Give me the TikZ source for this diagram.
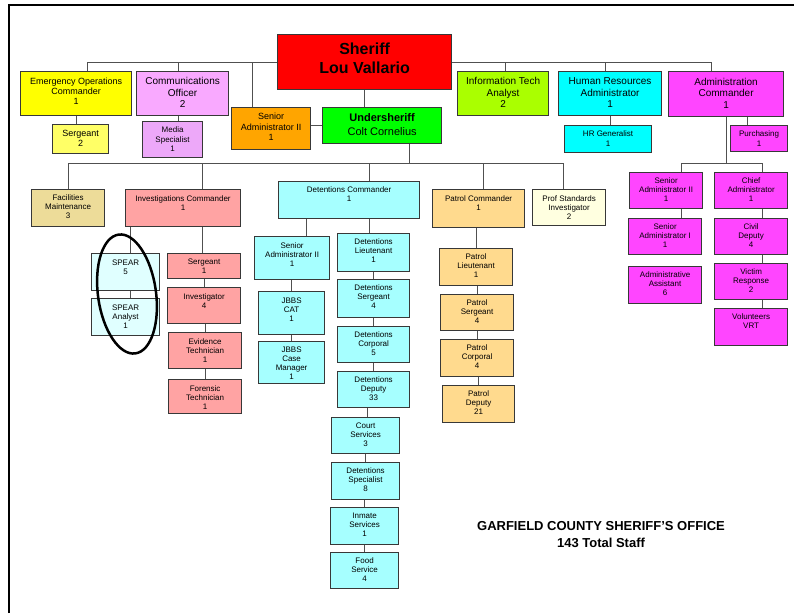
\documentclass[tikz,border=0pt]{standalone}
\usepackage{fontspec}
\setmainfont{Liberation Sans}
\usepackage{tikz}

\definecolor{boxline}{HTML}{383838}
\definecolor{wirecol}{HTML}{505050}
\definecolor{sheriffred}{HTML}{FF0000}
\definecolor{emgyellow}{HTML}{FFFF00}
\definecolor{sgtyellow}{HTML}{FFFF66}
\definecolor{commpink}{HTML}{F9A9FF}
\definecolor{mediapink}{HTML}{EDA8F9}
\definecolor{admorange}{HTML}{FFA500}
\definecolor{undergreen}{HTML}{00FF00}
\definecolor{itgreen}{HTML}{AAFF00}
\definecolor{hrcyan}{HTML}{00FFFF}
\definecolor{admmagenta}{HTML}{FF45FF}
\definecolor{facbeige}{HTML}{EDDC99}
\definecolor{invred}{HTML}{FFA3A3}
\definecolor{detcyan}{HTML}{A6FFFF}
\definecolor{spearcyan}{HTML}{E0FFFF}
\definecolor{patrolorange}{HTML}{FFDA8E}
\definecolor{profivory}{HTML}{FFFFE0}

\tikzset{
  box/.style={draw=boxline, line width=1.2pt, anchor=north west, inner sep=0pt},
  lbl/.style={anchor=north, align=center, inner sep=5.5pt, font=\fontsize{8}{9.2}\selectfont},
  lblm/.style={lbl, inner sep=6.5pt, font=\fontsize{9}{10.3}\selectfont},
  lbll/.style={lbl, inner sep=6.5pt, font=\fontsize{10}{11.5}\selectfont},
  wire/.style={draw=wirecol, line width=1pt},
  frame/.style={draw=black, line width=2.5pt},
  ring/.style={draw=black, line width=2.5pt},
  heading/.style={anchor=north, align=center, inner sep=0pt, font=\bfseries\fontsize{13}{17}\selectfont}
}

\begin{document}
\begin{tikzpicture}[x=1pt, y=-1pt]
\useasboundingbox (0,0) rectangle (794,613);
\draw[frame] (9,613) -- (9,5) -- (794,5);

% top row
\node[box, fill=sheriffred, minimum width=174pt, minimum height=55pt, label={[lbl, inner sep=8.5pt, font=\bfseries\fontsize{16}{19}\selectfont]north:{Sheriff\\Lou Vallario}}] (sheriff) at (277,34) {};
\node[box, fill=emgyellow, minimum width=111pt, minimum height=44pt, label={[lblm]north:{Emergency Operations\\Commander\\1}}] (emg) at (20,71) {};
\node[box, fill=commpink, minimum width=92pt, minimum height=44pt, label={[lbll]north:{Communications\\Officer\\2}}] (comm) at (136,71) {};
\node[box, fill=sgtyellow, minimum width=56pt, minimum height=29pt, label={[lblm, inner sep=6pt]north:{Sergeant\\2}}] (sgt1) at (52,124) {};
\node[box, fill=mediapink, minimum width=60pt, minimum height=36pt, label={[lbl, inner sep=6pt]north:{Media\\Specialist\\1}}] (media) at (142,121) {};
\node[box, fill=admorange, minimum width=79pt, minimum height=42pt, label={[lblm, inner sep=6pt]north:{Senior\\Administrator II\\1}}] (sadm) at (231,107) {};
\node[box, fill=undergreen, minimum width=119pt, minimum height=36pt, label={[lbl, inner sep=6.5pt, font=\fontsize{11}{13.5}\selectfont]north:{\textbf{Undersheriff}\\Colt Cornelius}}] (under) at (322,107) {};
\node[box, fill=itgreen, minimum width=91pt, minimum height=44pt, label={[lbll]north:{Information Tech\\Analyst\\2}}] (itech) at (457,71) {};
\node[box, fill=hrcyan, minimum width=103pt, minimum height=44pt, label={[lbll]north:{Human Resources\\Administrator\\1}}] (hr) at (558,71) {};
\node[box, fill=hrcyan, minimum width=87pt, minimum height=27pt, label={[lbl, inner sep=6pt]north:{HR Generalist\\1}}] (hrgen) at (564,125) {};
\node[box, fill=admmagenta, minimum width=115pt, minimum height=45pt, label={[lbll, inner sep=7pt]north:{Administration\\Commander\\1}}] (admin) at (668,71) {};
\node[box, fill=admmagenta, minimum width=57pt, minimum height=26pt, label={[lbl, inner sep=6pt]north:{Purchasing\\1}}] (purch) at (730,125) {};

% second row
\node[box, fill=facbeige, minimum width=73pt, minimum height=37pt, label={[lbl]north:{Facilities\\Maintenance\\3}}] (fac) at (31,189) {};
\node[box, fill=invred, minimum width=115pt, minimum height=37pt, label={[lbl, inner sep=6.5pt]north:{Investigations Commander\\1}}] (inv) at (125,189) {};
\node[box, fill=detcyan, minimum width=141pt, minimum height=37pt, label={[lbl]north:{Detentions Commander\\1}}] (det) at (278,181) {};
\node[box, fill=patrolorange, minimum width=92pt, minimum height=38pt, label={[lbl, inner sep=6.5pt]north:{Patrol Commander\\1}}] (patrol) at (432,189) {};
\node[box, fill=profivory, minimum width=73pt, minimum height=36pt, label={[lbl, inner sep=6.5pt]north:{Prof Standards\\Investigator\\2}}] (prof) at (532,189) {};

% investigations
\node[box, fill=spearcyan, minimum width=68pt, minimum height=37pt, label={[lbl, inner sep=6.5pt]north:{SPEAR\\5}}] (spear) at (91,253) {};
\node[box, fill=spearcyan, minimum width=68pt, minimum height=37pt, label={[lbl, inner sep=6.5pt]north:{SPEAR\\Analyst\\1}}] (spana) at (91,298) {};
\node[box, fill=invred, minimum width=73pt, minimum height=25pt, label={[lbl, inner sep=6pt]north:{Sergeant\\1}}] (isgt) at (167,253) {};
\node[box, fill=invred, minimum width=73pt, minimum height=36pt, label={[lbl, inner sep=6pt]north:{Investigator\\4}}] (invst) at (167,287) {};
\node[box, fill=invred, minimum width=73pt, minimum height=36pt, label={[lbl, inner sep=6pt]north:{Evidence\\Technician\\1}}] (evid) at (168,332) {};
\node[box, fill=invred, minimum width=73pt, minimum height=34pt, label={[lbl, inner sep=6pt]north:{Forensic\\Technician\\1}}] (foren) at (168,379) {};

% detentions
\node[box, fill=detcyan, minimum width=75pt, minimum height=43pt, label={[lbl, inner sep=6.5pt]north:{Senior\\Administrator II\\1}}] (dsa) at (254,236) {};
\node[box, fill=detcyan, minimum width=66pt, minimum height=43pt, label={[lbl, inner sep=6.5pt]north:{JBBS\\CAT\\1}}] (cat) at (258,291) {};
\node[box, fill=detcyan, minimum width=66pt, minimum height=42pt, label={[lbl]north:{JBBS\\Case\\Manager\\1}}] (casemgr) at (258,341) {};
\node[box, fill=detcyan, minimum width=72pt, minimum height=38pt, label={[lbl]north:{Detentions\\Lieutenant\\1}}] (dlt) at (337,233) {};
\node[box, fill=detcyan, minimum width=72pt, minimum height=38pt, label={[lbl]north:{Detentions\\Sergeant\\4}}] (dsgt) at (337,279) {};
\node[box, fill=detcyan, minimum width=72pt, minimum height=36pt, label={[lbl]north:{Detentions\\Corporal\\5}}] (dcpl) at (337,326) {};
\node[box, fill=detcyan, minimum width=72pt, minimum height=36pt, label={[lbl]north:{Detentions\\Deputy\\33}}] (ddep) at (337,371) {};
\node[box, fill=detcyan, minimum width=68pt, minimum height=36pt, label={[lbl]north:{Court\\Services\\3}}] (court) at (331,417) {};
\node[box, fill=detcyan, minimum width=68pt, minimum height=37pt, label={[lbl]north:{Detentions\\Specialist\\8}}] (dspec) at (331,462) {};
\node[box, fill=detcyan, minimum width=68pt, minimum height=37pt, label={[lbl]north:{Inmate\\Services\\1}}] (inmate) at (330,507) {};
\node[box, fill=detcyan, minimum width=68pt, minimum height=36pt, label={[lbl]north:{Food\\Service\\4}}] (food) at (330,552) {};

% patrol
\node[box, fill=patrolorange, minimum width=73pt, minimum height=37pt, label={[lbl]north:{Patrol\\Lieutenant\\1}}] (plt) at (439,248) {};
\node[box, fill=patrolorange, minimum width=73pt, minimum height=36pt, label={[lbl]north:{Patrol\\Sergeant\\4}}] (psgt) at (440,294) {};
\node[box, fill=patrolorange, minimum width=73pt, minimum height=37pt, label={[lbl]north:{Patrol\\Corporal\\4}}] (pcpl) at (440,339) {};
\node[box, fill=patrolorange, minimum width=72pt, minimum height=37pt, label={[lbl]north:{Patrol\\Deputy\\21}}] (pdep) at (442,385) {};

% administration
\node[box, fill=admmagenta, minimum width=73pt, minimum height=36pt, label={[lbl]north:{Senior\\Administrator II\\1}}] (asa2) at (629,172) {};
\node[box, fill=admmagenta, minimum width=73pt, minimum height=36pt, label={[lbl]north:{Senior\\Administrator I\\1}}] (asa1) at (628,218) {};
\node[box, fill=admmagenta, minimum width=73pt, minimum height=37pt, label={[lbl]north:{Administrative\\Assistant\\6}}] (aasst) at (628,266) {};
\node[box, fill=admmagenta, minimum width=73pt, minimum height=36pt, label={[lbl]north:{Chief\\Administrator\\1}}] (chief) at (714,172) {};
\node[box, fill=admmagenta, minimum width=73pt, minimum height=36pt, label={[lbl]north:{Civil\\Deputy\\4}}] (civil) at (714,218) {};
\node[box, fill=admmagenta, minimum width=73pt, minimum height=36pt, label={[lbl]north:{Victim\\Response\\2}}] (victim) at (714,263) {};
\node[box, fill=admmagenta, minimum width=73pt, minimum height=37pt, label={[lbl]north:{Volunteers\\VRT}}] (volun) at (714,308) {};

\node[heading] (gcso) at (601,521) {GARFIELD COUNTY SHERIFF’S OFFICE\\143 Total Staff};

% sheriff lines
\draw[wire] ([xshift=11.5pt]emg.north) |- (sheriff.west);
\draw[wire] ([xshift=-4pt]comm.north) |- (sheriff.west);
\draw[wire] ([xshift=-18.5pt]sadm.north) |- (sheriff.west);
\draw[wire] ([xshift=2.5pt]itech.north) |- (sheriff.east);
\draw[wire] ([xshift=-4.5pt]hr.north) |- (sheriff.east);
\draw[wire] ([xshift=-14.5pt]admin.north) |- (sheriff.east);
\draw[wire] (sheriff.south) -- (sheriff.south |- under.north);
\draw[wire] (sadm.east |- under.west) -- (under.west);
\draw[wire] (emg.south) -- (emg.south |- sgt1.north);
\draw[wire] ([xshift=-4pt]comm.south) -- ([xshift=-4pt]comm.south |- media.north);
\draw[wire] (hr.south) -- (hr.south |- hrgen.north);
\draw[wire] ([xshift=21.5pt]admin.south) -- ([xshift=21.5pt]admin.south |- purch.north);

% undersheriff lines
\draw[wire] ([xshift=27.5pt]under.south) -- ++(0,19) coordinate (bus2);
\draw[wire] (fac.north) |- (bus2) -| ([xshift=-5.5pt]prof.north);
\draw[wire] ([xshift=19.5pt]inv.north) |- (bus2);
\draw[wire] ([xshift=20.5pt]det.north) |- (bus2);
\draw[wire] ([xshift=5pt]patrol.north) |- (bus2);

% investigations lines
\draw[wire] ([xshift=5pt]spear.north) -- ([xshift=5pt]spear.north |- inv.south);
\draw[wire] ([xshift=5pt]spear.south) -- ([xshift=5pt]spear.south |- spana.north);
\draw[wire] ([xshift=19.5pt]inv.south) -- ([xshift=19.5pt]inv.south |- isgt.north);
\draw[wire] (isgt.south) -- (isgt.south |- invst.north);
\draw[wire] (evid.north) -- (evid.north |- invst.south);
\draw[wire] (foren.north) -- (foren.north |- evid.south);

% detentions lines
\draw[wire] ([xshift=-42.5pt]det.south) -- ([xshift=-42.5pt]det.south |- dsa.north);
\draw[wire] (cat.north) -- (cat.north |- dsa.south);
\draw[wire] (casemgr.north) -- (casemgr.north |- cat.south);
\draw[wire] ([xshift=20.5pt]det.south) -- ([xshift=20.5pt]det.south |- dlt.north);
\draw[wire] (dsgt.north) -- (dsgt.north |- dlt.south);
\draw[wire] (dcpl.north) -- (dcpl.north |- dsgt.south);
\draw[wire] (ddep.north) -- (ddep.north |- dcpl.south);
\draw[wire] ([xshift=2pt]court.north) -- ([xshift=2pt]court.north |- ddep.south);
\draw[wire] (dspec.north) -- (dspec.north |- court.south);
\draw[wire] (inmate.north) -- (inmate.north |- dspec.south);
\draw[wire] (food.north) -- (food.north |- inmate.south);

% patrol lines
\draw[wire] ([xshift=-2pt]patrol.south) -- ([xshift=-2pt]patrol.south |- plt.north);
\draw[wire] (psgt.north) -- (psgt.north |- plt.south);
\draw[wire] (pcpl.north) -- (pcpl.north |- psgt.south);
\draw[wire] (pdep.north) -- (pdep.north |- pcpl.south);

% administration lines
\draw[wire] (admin.south) -- ++(0,46) coordinate (bus3);
\draw[wire] ([xshift=15.5pt]asa2.north) |- (bus3) -| ([xshift=11.5pt]chief.north);
\draw[wire] ([xshift=15.5pt]asa2.south) -- ([xshift=15.5pt]asa2.south |- asa1.north);
\draw[wire] ([xshift=11.5pt]chief.south) -- ([xshift=11.5pt]chief.south |- civil.north);
\draw[wire] ([xshift=11.5pt]civil.south) -- ([xshift=11.5pt]civil.south |- victim.north);
\draw[wire] ([xshift=11.5pt]victim.south) -- ([xshift=11.5pt]victim.south |- volun.north);

% circled SPEAR
\draw[ring, rotate around={8:(127,294)}] (127,294) ellipse [x radius=29pt, y radius=60pt];
\end{tikzpicture}
\end{document}
